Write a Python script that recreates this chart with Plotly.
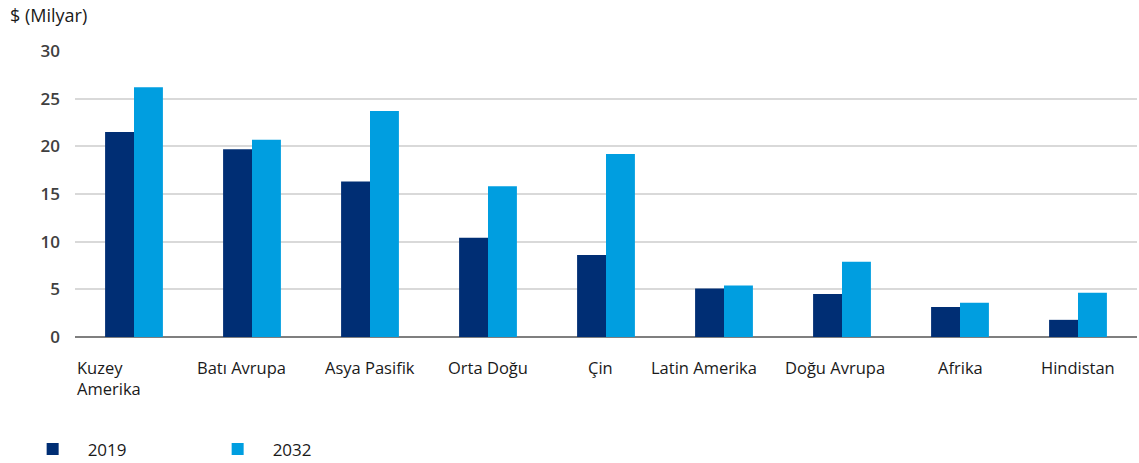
import plotly.graph_objects as go

# Regional market size, billions of USD
regions = ["Kuzey Amerika", "Batı Avrupa", "Asya Pasifik", "Orta Doğu", "Çin",
           "Latin Amerika", "Doğu Avrupa", "Afrika", "Hindistan"]
values_2019 = [21.5, 19.7, 16.3, 10.4, 8.6, 5.1, 4.5, 3.15, 1.8]
values_2032 = [26.2, 20.7, 23.7, 15.8, 19.2, 5.4, 7.9, 3.6, 4.65]
y_ticks = [0, 5, 10, 15, 20, 25, 30]

NAVY = "#002E74"
SKY = "#009EE0"
FONT = "Open Sans, Arial, sans-serif"
TEXT = "#1a1a1a"

fig = go.Figure()
fig.add_trace(go.Bar(name="2019", x=regions, y=values_2019, marker_color=NAVY,
                     marker_line_width=0))
fig.add_trace(go.Bar(name="2032", x=regions, y=values_2032, marker_color=SKY,
                     marker_line_width=0))

# Category labels placed below the axis (first one wraps, left aligned)
label_shift = {"Latin Amerika": -20, "Doğu Avrupa": -7, "Batı Avrupa": -11, "Çin": -6}
for r in regions:
    if r == "Kuzey Amerika":
        fig.add_annotation(x=r, y=0, xref="x", yref="y", text="Kuzey<br>Amerika",
                           showarrow=False, xanchor="left", yanchor="top", align="left",
                           xshift=-59, yshift=-17,
                           font=dict(family=FONT, size=16.5, color=TEXT))
    else:
        fig.add_annotation(x=r, y=0, xref="x", yref="y", text=r,
                           showarrow=False, xanchor="center", yanchor="top",
                           xshift=label_shift.get(r, 0), yshift=-17,
                           font=dict(family=FONT, size=16.5, color=TEXT))

fig.add_annotation(x=0, y=1, xref="paper", yref="paper", text="$ (Milyar)",
                   showarrow=False, xanchor="left", yanchor="top", xshift=-67, yshift=50,
                   font=dict(family=FONT, size=18, color=TEXT))

fig.update_layout(
    width=1139, height=463,
    margin=dict(l=75, r=2, t=51, b=126, autoexpand=False),
    paper_bgcolor="white", plot_bgcolor="white",
    barmode="group", bargap=0.51, bargroupgap=0,
    font=dict(family=FONT),
    showlegend=True,
    legend=dict(orientation="h", x=-0.054, y=-0.33, xanchor="left", yanchor="top",
                entrywidth=110, entrywidthmode="pixels", itemwidth=60,
                font=dict(family=FONT, size=17, color=TEXT)),
)
fig.update_xaxes(showticklabels=False, showgrid=False, showline=False, ticks="")
fig.update_yaxes(range=[0, 30], tickvals=y_ticks, showgrid=True, gridcolor="#d9d9d9",
                 gridwidth=1.5, zeroline=True, zerolinecolor="#7f7f7f", zerolinewidth=2,
                 ticks="", ticklabelstandoff=14,
                 tickfont=dict(family=FONT, size=17, color="#404040", weight=600))

fig.write_html("out.html")
